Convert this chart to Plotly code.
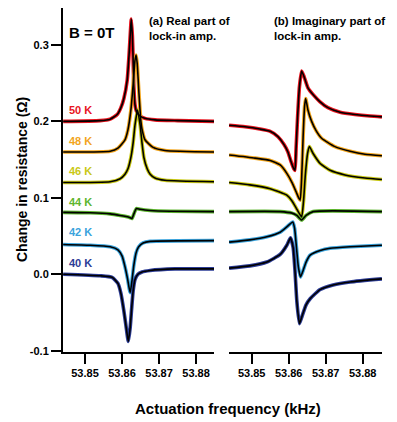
import plotly.graph_objects as go

# ---------------- data (kHz, Ohm) ----------------
temps = ["50 K", "48 K", "46 K", "44 K", "42 K", "40 K"]
colors = ["#e8141e", "#f2a51c", "#c9c814", "#5db52e", "#3aa3dc", "#2c3c96"]
offsets = [0.20, 0.16, 0.12, 0.08, 0.04, 0.00]

# (a) real part
re50_f = [53.8441, 53.8541, 53.8568, 53.8587, 53.8597, 53.8605, 53.8614, 53.8619, 53.8623, 53.8625,
          53.8628, 53.8630, 53.8632, 53.8635, 53.8640, 53.8649, 53.8662, 53.8689, 53.8750, 53.8849]
re50_y = [0.200, 0.201, 0.203, 0.209, 0.218, 0.230, 0.254, 0.287, 0.320, 0.334,
          0.312, 0.282, 0.245, 0.222, 0.212, 0.207, 0.204, 0.202, 0.201, 0.200]
re48_f = [53.8441, 53.8568, 53.8589, 53.8608, 53.8616, 53.8624, 53.8630, 53.8635, 53.8638, 53.8641,
          53.8646, 53.8651, 53.8654, 53.8662, 53.8684, 53.8716, 53.8849]
re48_y = [0.160, 0.161, 0.165, 0.176, 0.189, 0.215, 0.248, 0.280, 0.287, 0.276,
          0.235, 0.200, 0.190, 0.176, 0.166, 0.162, 0.160]
re46_f = [53.8441, 53.8568, 53.8595, 53.8608, 53.8616, 53.8624, 53.8630, 53.8635, 53.8642, 53.8649,
          53.8654, 53.8659, 53.8668, 53.8676, 53.8689, 53.8716, 53.8849]
re46_y = [0.120, 0.121, 0.125, 0.131, 0.138, 0.153, 0.172, 0.195, 0.215, 0.195,
          0.172, 0.153, 0.138, 0.131, 0.126, 0.123, 0.121]
re44_f = [53.8441, 53.8514, 53.8568, 53.8595, 53.8611, 53.8622, 53.8627, 53.8632, 53.8639, 53.8649,
          53.8676, 53.8730, 53.8849]
re44_y = [0.081, 0.0805, 0.079, 0.077, 0.0755, 0.074, 0.073, 0.079, 0.086, 0.085,
          0.0835, 0.0825, 0.082]
re42_f = [53.8441, 53.8514, 53.8568, 53.8589, 53.8600, 53.8608, 53.8615, 53.8622, 53.8627, 53.8632,
          53.8638, 53.8645, 53.8657, 53.8676, 53.8849]
re42_y = [0.039, 0.038, 0.036, 0.032, 0.024, 0.010, -0.006, -0.024, -0.008, 0.012,
          0.028, 0.036, 0.041, 0.043, 0.044]
re40_f = [53.8441, 53.8541, 53.8573, 53.8589, 53.8597, 53.8605, 53.8612, 53.8617, 53.8622, 53.8626,
          53.8630, 53.8635, 53.8643, 53.8654, 53.8676, 53.8743, 53.8849]
re40_y = [0.000, -0.002, -0.004, -0.012, -0.025, -0.048, -0.072, -0.088, -0.070, -0.045,
          -0.022, -0.007, 0.000, 0.003, 0.005, 0.007, 0.007]

# (b) imaginary part
im50_f = [53.8439, 53.8482, 53.8522, 53.8550, 53.8571, 53.8587, 53.8598, 53.8606, 53.8614, 53.8617,
          53.8620, 53.8624, 53.8629, 53.8635, 53.8642, 53.8652, 53.8668, 53.8684, 53.8706, 53.8739,
          53.8779, 53.8820, 53.8852]
im50_y = [0.195, 0.193, 0.190, 0.187, 0.180, 0.170, 0.160, 0.148, 0.138, 0.136,
          0.165, 0.205, 0.245, 0.266, 0.258, 0.244, 0.234, 0.226, 0.218, 0.212,
          0.209, 0.207, 0.206]
im48_f = [53.8439, 53.8509, 53.8550, 53.8577, 53.8595, 53.8609, 53.8620, 53.8627, 53.8631, 53.8635,
          53.8639, 53.8643, 53.8646, 53.8652, 53.8662, 53.8674, 53.8689, 53.8725, 53.8766, 53.8806,
          53.8852]
im48_y = [0.156, 0.152, 0.149, 0.143, 0.132, 0.120, 0.108, 0.100, 0.097, 0.125,
          0.180, 0.220, 0.230, 0.215, 0.200, 0.188, 0.178, 0.167, 0.161, 0.157,
          0.155]
im46_f = [53.8439, 53.8495, 53.8550, 53.8595, 53.8609, 53.8620, 53.8628, 53.8635, 53.8640, 53.8645,
          53.8651, 53.8656, 53.8666, 53.8685, 53.8712, 53.8752, 53.8806, 53.8852]
im46_y = [0.120, 0.117, 0.112, 0.1035, 0.096, 0.087, 0.080, 0.075, 0.095, 0.130,
          0.158, 0.167, 0.158, 0.145, 0.136, 0.130, 0.126, 0.124]
im44_f = [53.8439, 53.8577, 53.8609, 53.8622, 53.8635, 53.8647, 53.8666, 53.8852]
im44_y = [0.082, 0.082, 0.080, 0.077, 0.071, 0.077, 0.082, 0.082]
im42_f = [53.8439, 53.8495, 53.8541, 53.8577, 53.8595, 53.8604, 53.8611, 53.8616, 53.8621, 53.8626,
          53.8632, 53.8639, 53.8647, 53.8658, 53.8685, 53.8712, 53.8766, 53.8852]
im42_y = [0.042, 0.045, 0.049, 0.055, 0.062, 0.066, 0.0685, 0.060, 0.035, 0.010,
          -0.0035, 0.005, 0.016, 0.025, 0.031, 0.034, 0.036, 0.038]
im40_f = [53.8439, 53.8495, 53.8541, 53.8577, 53.8595, 53.8605, 53.8612, 53.8617, 53.8622, 53.8629,
          53.8636, 53.8647, 53.8658, 53.8685, 53.8720, 53.8766, 53.8852]
im40_y = [0.008, 0.011, 0.016, 0.026, 0.038, 0.0476, 0.035, 0.005, -0.035, -0.0646,
          -0.055, -0.040, -0.032, -0.020, -0.014, -0.010, -0.006]

x_ticks = [53.85, 53.86, 53.87, 53.88]
y_ticks = [-0.1, 0.0, 0.1, 0.2, 0.3]

real_curves = [(re50_f, re50_y), (re48_f, re48_y), (re46_f, re46_y),
               (re44_f, re44_y), (re42_f, re42_y), (re40_f, re40_y)]
imag_curves = [(im50_f, im50_y), (im48_f, im48_y), (im46_f, im46_y),
               (im44_f, im44_y), (im42_f, im42_y), (im40_f, im40_y)]

FONT = "Arial, Liberation Sans, sans-serif"
fig = go.Figure()

for (xa, ya), curves in (("x", "y"), real_curves), (("x2", "y"), imag_curves):
    for (f, y), c in zip(curves, colors):
        fig.add_trace(go.Scatter(x=f, y=y, xaxis=xa, yaxis=ya, mode="lines",
                                 line=dict(color=c, width=3.6, shape="spline", smoothing=0.5),
                                 hoverinfo="skip", showlegend=False))
    for (f, y), c in zip(curves, colors):
        fig.add_trace(go.Scatter(x=f, y=y, xaxis=xa, yaxis=ya, mode="lines",
                                 line=dict(color="black", width=1.6, shape="spline", smoothing=0.5),
                                 hoverinfo="skip", showlegend=False))

tickfont = dict(family=FONT, size=11, color="black", weight="bold")
common_x = dict(tickmode="array", tickvals=x_ticks, ticktext=[f"{v:.2f}" for v in x_ticks],
                ticks="outside", ticklen=10, tickwidth=2, tickcolor="black",
                showline=True, linecolor="black", linewidth=2, showgrid=False, zeroline=False,
                tickfont=tickfont)
# the page body adds an 8 px margin, so the figure is sized/placed to compensate
fig.update_layout(
    width=389, height=414,
    margin=dict(l=55, r=15, t=0, b=70),
    paper_bgcolor="white", plot_bgcolor="white",
    xaxis=dict(domain=[0, 0.4734], range=[53.84405, 53.88486], anchor="y", **common_x),
    xaxis2=dict(domain=[0.5204, 1], range=[53.84387, 53.88522], anchor="y", **common_x),
    yaxis=dict(range=[-0.1017, 0.3484], tickmode="array", tickvals=y_ticks,
               ticktext=[f"{v:.1f}" for v in y_ticks],
               ticks="outside", ticklen=10, tickwidth=2, tickcolor="black",
               showline=True, linecolor="black", linewidth=2, showgrid=False, zeroline=False,
               tickfont=tickfont),
)

ann = []
ann.append(dict(text="B = 0T", x=0.0909, y=0.930, xref="paper", yref="paper",
                xanchor="center", yanchor="middle",
                showarrow=False, font=dict(family=FONT, size=15, color="black", weight="bold")))
ann.append(dict(text="(a) Real part of<br>lock-in amp.", x=0.2633, y=0.985, xref="paper", yref="paper",
                xanchor="left", yanchor="top", align="left", showarrow=False,
                font=dict(family=FONT, size=11.5, color="black", weight="bold")))
ann.append(dict(text="(b) Imaginary part of<br>lock-in amp.", x=0.655, y=0.985, xref="paper", yref="paper",
                xanchor="left", yanchor="top", align="left", showarrow=False,
                font=dict(family=FONT, size=11.5, color="black", weight="bold")))
ann.append(dict(text="Change in resistance (Ω)", x=-0.1285, y=0.50, xref="paper", yref="paper",
                xanchor="center", yanchor="middle", textangle=-90, showarrow=False,
                font=dict(family=FONT, size=14, color="black", weight="bold")))
ann.append(dict(text="Actuation frequency (kHz)", x=0.517, y=-0.163, xref="paper", yref="paper",
                xanchor="center", yanchor="middle",
                showarrow=False, font=dict(family=FONT, size=15, color="black", weight="bold")))
for t, c, o in zip(temps, colors, offsets):
    ann.append(dict(text=t, x=53.8451, y=o + 0.015, xref="x", yref="y", xanchor="left",
                    yanchor="middle",
                    showarrow=False, font=dict(family=FONT, size=11, color=c, weight="bold")))
fig.update_layout(annotations=ann)

fig.write_html("out.html")
